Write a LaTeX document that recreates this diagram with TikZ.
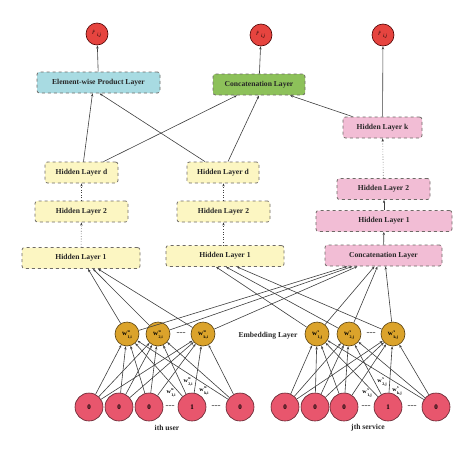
\documentclass[tikz,border=0pt]{standalone}
\usepackage{fontspec}
\setmainfont{Liberation Serif}
\usetikzlibrary{arrows.meta}
\definecolor{boxline}{HTML}{6E6A66}
\definecolor{yel}{HTML}{FCF6C2}
\definecolor{pnk}{HTML}{F2BDD5}
\definecolor{blu}{HTML}{A8DBE2}
\definecolor{grn}{HTML}{8DC15A}
\definecolor{outred}{HTML}{E6443F}
\definecolor{inred}{HTML}{E8566D}
\definecolor{gold}{HTML}{DBA32B}
\definecolor{arr}{HTML}{3E3E3E}
\tikzset{
  layerbox/.style={draw=boxline, dashed, line width=0.8pt, rounded corners=2.5pt,
    minimum height=21pt, inner sep=1pt, font=\bfseries\fontsize{7.6}{9}\selectfont, text=black!85},
  outnode/.style={circle, draw=black!70!red, line width=0.6pt, fill=outred, minimum size=22pt, inner sep=0pt,
    font=\fontsize{6}{6}\selectfont},
  embnode/.style={circle, draw=black!60!gold, line width=0.6pt, fill=gold, minimum size=24pt, inner sep=0pt,
    font=\bfseries\fontsize{7}{7}\selectfont},
  innode/.style={circle, draw=black!60!inred, line width=0.6pt, fill=inred, minimum size=28pt, inner sep=0pt,
    font=\bfseries\fontsize{7}{8}\selectfont},
  conn/.style={draw=arr, line width=0.6pt, -{Stealth[length=3.2pt,width=2.4pt]}},
  dconn/.style={conn, dotted},
  lbl/.style={font=\bfseries\fontsize{7.6}{9}\selectfont, text=black!85},
  wlbl/.style={font=\bfseries\fontsize{6}{6}\selectfont, inner sep=0pt},
  dotsl/.style={font=\bfseries\fontsize{6}{6}\selectfont, inner sep=0pt}
}
\newcommand{\rhatij}{\textit{\^{r}}\textsubscript{\textit{i,j}}}
\newcommand{\wlab}[2]{\textbf{w}\kern0.5pt\raisebox{-2.8pt}{\fontsize{4}{6.2}\selectfont\renewcommand\arraystretch{1}\begin{tabular}[b]{@{}l@{}}#1\\#2\end{tabular}}}
\begin{document}
\begin{tikzpicture}[x=1pt,y=-1pt]
\useasboundingbox (0,0) rectangle (474,453);
% outputs
\node[outnode] (o1) at (97,34) {\rhatij};
\node[outnode] (o2) at (261,35) {\rhatij};
\node[outnode] (o3) at (383,35) {\rhatij};
% top layers
\node[layerbox, fill=blu, minimum width=123pt] (ew) at (98.5,82.5) {Element-wise Product Layer};
\node[layerbox, fill=grn, minimum width=92pt] (cc) at (259,84.5) {Concatenation Layer};
% left tower
\node[layerbox, fill=yel, minimum width=73pt] (hdL) at (81.5,172.5) {Hidden Layer d};
\node[layerbox, fill=yel, minimum width=93pt] (h2L) at (81.5,211.5) {Hidden Layer 2};
\node[layerbox, fill=yel, minimum width=118pt] (h1L) at (81,258) {Hidden Layer 1};
% middle tower
\node[layerbox, fill=yel, minimum width=72pt] (hdM) at (223,172.5) {Hidden Layer d};
\node[layerbox, fill=yel, minimum width=93pt] (h2M) at (223.5,211.5) {Hidden Layer 2};
\node[layerbox, fill=yel, minimum width=118pt] (h1M) at (225,256) {Hidden Layer 1};
% right tower
\node[layerbox, fill=pnk, minimum width=79pt] (hk) at (382.5,127.5) {Hidden Layer k};
\node[layerbox, fill=pnk, minimum width=93pt] (h2R) at (383.5,189) {Hidden Layer 2};
\node[layerbox, fill=pnk, minimum width=136pt] (h1R) at (384,221) {Hidden Layer 1};
\node[layerbox, fill=pnk, minimum width=117pt] (ccR) at (383.5,255.5) {Concatenation Layer};
% embeddings
\node[embnode] (eu1) at (127,334) {\wlab{u}{1,i}};
\node[embnode] (eu2) at (158,334) {\wlab{u}{2,i}};
\node[embnode] (euk) at (203,334) {\wlab{u}{k,i}};
\node[embnode] (es1) at (317,334) {\wlab{s}{1,j}};
\node[embnode] (es2) at (349,334) {\wlab{s}{2,j}};
\node[embnode] (esk) at (393,334) {\wlab{s}{k,j}};
\node[dotsl] (edL) at (181,333) {......};
\node[dotsl] (edR) at (371,333) {......};
\node[lbl] (emb) at (268,336) {Embedding Layer};
% inputs
\node[innode] (iu1) at (89,407) {0};
\node[innode] (iu2) at (119,407) {0};
\node[innode] (iu3) at (149,407) {0};
\node[innode] (iu4) at (192,407) {1};
\node[innode] (iu5) at (240,407) {0};
\node[innode] (is1) at (285,407) {0};
\node[innode] (is2) at (315,407) {0};
\node[innode] (is3) at (344,407) {0};
\node[innode] (is4) at (388,407) {1};
\node[innode] (is5) at (436,407) {0};
\node[dotsl] (d1) at (170,406) {......};
\node[dotsl] (d2) at (216,406) {......};
\node[dotsl] (d3) at (366,406) {......};
\node[dotsl] (d4) at (412,406) {......};
\node[lbl] (ulbl) at (167,428) {ith user};
\node[lbl] (slbl) at (368,428) {jth service};
% input -> embedding
\foreach \i in {1,...,5}{
  \foreach \e in {1,2,k}{
    \draw[conn] (iu\i) -- (eu\e);
    \draw[conn] (is\i) -- (es\e);
  }
}
% weight labels
\node[wlbl] (wu1) at (171,392) {\wlab{u}{1,i}};
\node[wlbl] (wu2) at (188,381) {\wlab{u}{2,i}};
\node[wlbl] (wuk) at (204,390) {\wlab{u}{k,i}};
\node[wlbl] (ws1) at (367,392) {\wlab{s}{1,j}};
\node[wlbl] (ws2) at (382,381) {\wlab{s}{2,j}};
\node[wlbl] (wsk) at (397,390) {\wlab{s}{k,j}};
% embedding -> hidden 1 / concat
\draw[conn] (eu1) -- ([xshift=7pt]h1L.south);
\draw[conn] (eu2) -- ([xshift=12pt]h1L.south);
\draw[conn] (euk) -- ([xshift=17pt]h1L.south);
\draw[conn] (eu1) -- ([xshift=-36pt]ccR.south);
\draw[conn] (eu2) -- ([xshift=-31pt]ccR.south);
\draw[conn] (euk) -- ([xshift=-26pt]ccR.south);
\draw[conn] (es1) -- ([xshift=-9pt]h1M.south);
\draw[conn] (es2) -- ([xshift=1pt]h1M.south);
\draw[conn] (esk) -- ([xshift=12pt]h1M.south);
\draw[conn] (es1) -- ([xshift=-9pt]ccR.south);
\draw[conn] (es2) -- ([xshift=-6pt]ccR.south);
\draw[conn] (esk) -- ([xshift=2pt]ccR.south);
% towers
\draw[dconn] (h1L) -- (h2L);
\draw[dconn] (h2L) -- (hdL);
\draw[dconn] (h1M.north -| h2M.south) -- (h2M);
\draw[dconn] (h2M) -- (hdM.south -| h2M.north);
\draw[conn] (ccR) -- (h1R);
\draw[conn] (h1R) -- (h2R.south -| h1R.north);
\draw[dconn] (h2R) -- (hk);
% top connections
\draw[conn] ([xshift=2pt]hdL.north) -- ([xshift=-6pt]ew.south);
\draw[conn] ([xshift=-18pt]hdM.north) -- ([xshift=1pt]ew.south);
\draw[conn] ([xshift=22pt]hdL.north) -- ([xshift=-22pt]cc.south);
\draw[conn] ([xshift=5pt]hdM.north) -- (cc.south);
\draw[conn] ([xshift=-30pt]hk.north) -- ([xshift=31pt]cc.south);
\draw[conn] (ew) -- (o1);
\draw[conn] (cc) -- (o2);
\draw[conn] (hk) -- (o3);
\end{tikzpicture}
\end{document}
